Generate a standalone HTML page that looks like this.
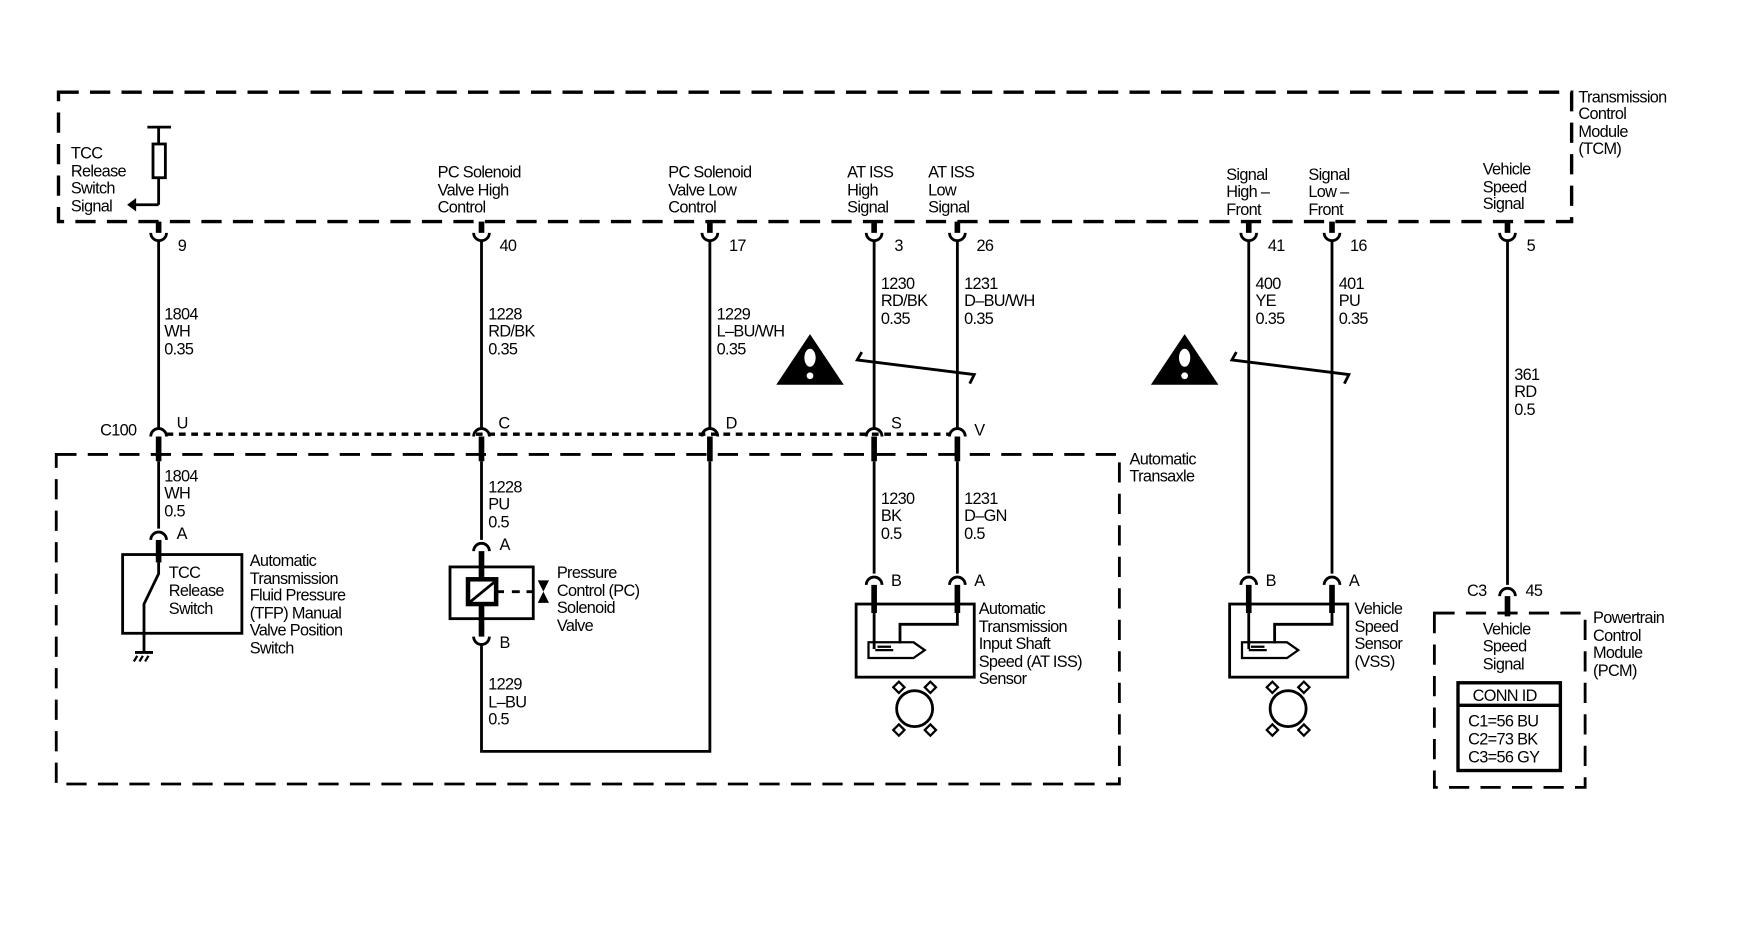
<!DOCTYPE html>
<html><head><meta charset="utf-8"><style>
html,body{margin:0;padding:0;background:#fff;}
svg{display:block}
text{font-family:"Liberation Sans",sans-serif;font-size:14.5px;letter-spacing:-0.6px;fill:#000}
</style></head><body>
<svg width="1764" height="928" viewBox="0 0 1568 825" preserveAspectRatio="none" xmlns="http://www.w3.org/2000/svg">
<g fill="none" stroke="#000">
<rect x="52" y="82" width="1345" height="115" stroke-width="3" stroke-dasharray="18,10"/>
<rect x="50" y="404" width="945" height="293" stroke-width="2.5" stroke-dasharray="18,10"/>
<rect x="1275" y="545" width="134" height="155" stroke-width="2.5" stroke-dasharray="18,10"/>
<line x1="148" y1="386" x2="845" y2="386" stroke-width="3" stroke-dasharray="6,5"/>
</g>
<g fill="none" stroke="#000" stroke-width="2.5">
<path d="M141 197V207 M428 197V207 M631 197V207 M777 197V207 M851 197V207 M1110 197V207 M1184 197V207 M1340 197V207" stroke-width="5"/>
<path d="M134 207a7 7 0 0 0 14 0 M421 207a7 7 0 0 0 14 0 M624 207a7 7 0 0 0 14 0 M770 207a7 7 0 0 0 14 0 M844 207a7 7 0 0 0 14 0 M1103 207a7 7 0 0 0 14 0 M1177 207a7 7 0 0 0 14 0 M1333 207a7 7 0 0 0 14 0"/>
<path d="M141 214V380 M428 214V380 M631 214V380 M777 214V380 M851 214V380 M1110 214V510 M1184 214V510 M1340 214V520"/>
<path d="M134 388a7 7 0 0 1 14 0 M421 388a7 7 0 0 1 14 0 M624 388a7 7 0 0 1 14 0 M770 388a7 7 0 0 1 14 0 M844 388a7 7 0 0 1 14 0"/>
<path d="M141 388V410 M428 388V410 M631 388V410 M777 388V410 M851 388V410" stroke-width="5"/>
<path d="M141 410V470 M428 410V480 M777 410V510 M851 410V510 M631 410V668H428V572"/>
<path d="M131 113H152 M141 113V128 M141 158V182 M141 182H120"/>
<rect x="136" y="128" width="11" height="30"/>
<path d="M134 480a7 7 0 0 1 14 0"/>
<path d="M141 480V500" stroke-width="5"/>
<rect x="109" y="493" width="106" height="70"/>
<path d="M141 500V510 L128 537 V580 M120 580H136"/>
<path d="M421 490a7 7 0 0 1 14 0 M421 566a7 7 0 0 0 14 0"/>
<path d="M428 490V516 M428 538V566" stroke-width="5"/>
<rect x="400" y="504" width="74" height="46"/>
<rect x="416" y="515" width="25" height="22" stroke-width="4"/>
<path d="M418 535L440 517 M441 526H448 M455 526H462 M468 526H474"/>
<path d="M770 520a7 7 0 0 1 14 0 M844 520a7 7 0 0 1 14 0 M1103 520a7 7 0 0 1 14 0 M1177 520a7 7 0 0 1 14 0 M1333 530a7 7 0 0 1 14 0"/>
<path d="M777 520V545 M851 520V545 M1110 520V545 M1184 520V545 M1340 530V548" stroke-width="5"/>
<rect x="761" y="537" width="105" height="65"/>
<rect x="1093" y="537" width="105" height="65"/>
<path d="M777 545V577 M851 545V555H800V572 M1110 545V577 M1184 545V555H1133V572"/>
<path d="M772 571H812L822 578L812 585H772Z M1104 571H1144L1154 578L1144 585H1104Z" stroke-width="2"/>
<circle cx="813" cy="630" r="16"/><circle cx="1145" cy="630" r="16"/>
<path d="M799 616l-5-5 5-5 5 5z M827 616l-5-5 5-5 5 5z M799 644l-5 5 5 5 5-5z M827 644l-5 5 5 5 5-5z" stroke-width="2"/>
<path d="M1131 616l-5-5 5-5 5 5z M1159 616l-5-5 5-5 5 5z M1131 644l-5 5 5 5 5-5z M1159 644l-5 5 5 5 5-5z" stroke-width="2"/>
<path d="M766 313L762 320L866 333L862 341 M1099 313L1095 320L1199 333L1195 341"/>
<rect x="1296" y="607" width="91" height="78" stroke-width="3"/>
<path d="M1296 627H1387" stroke-width="3"/>
</g>
<path d="M113 182L121 176V188Z" fill="#000"/>
<path d="M478 516H488L478 536H488Z" fill="#000"/>
<path d="M122 583l-3 5 M127 583l-3 5 M132 583l-3 5" stroke="#000" stroke-width="2"/>
<path d="M780 575h12M778 578h16" stroke="#000" stroke-width="2"/>
<path d="M1112 575h12M1110 578h16" stroke="#000" stroke-width="2"/>
<g fill="#000"><path d="M720 297L690 342H750Z"/><path d="M1053 297L1023 342H1083Z"/></g>
<g fill="#fff"><ellipse cx="720" cy="318" rx="5" ry="8"/><circle cx="720" cy="334" r="3"/><ellipse cx="1053" cy="318" rx="5" ry="8"/><circle cx="1053" cy="334" r="3"/></g>

<g>
<text x="1403" y="91">Transmission</text><text x="1403" y="106">Control</text><text x="1403" y="122">Module</text><text x="1403" y="137">(TCM)</text>
<text x="63" y="141">TCC</text><text x="63" y="157">Release</text><text x="63" y="172">Switch</text><text x="63" y="188">Signal</text>
<text x="389" y="158">PC Solenoid</text><text x="389" y="174">Valve High</text><text x="389" y="189">Control</text>
<text x="594" y="158">PC Solenoid</text><text x="594" y="174">Valve Low</text><text x="594" y="189">Control</text>
<text x="753" y="158">AT ISS</text><text x="753" y="174">High</text><text x="753" y="189">Signal</text>
<text x="825" y="158">AT ISS</text><text x="825" y="174">Low</text><text x="825" y="189">Signal</text>
<text x="1090" y="160">Signal</text><text x="1090" y="175">High –</text><text x="1090" y="191">Front</text>
<text x="1163" y="160">Signal</text><text x="1163" y="175">Low –</text><text x="1163" y="191">Front</text>
<text x="1318" y="155">Vehicle</text><text x="1318" y="171">Speed</text><text x="1318" y="186">Signal</text>
<text x="158" y="223">9</text><text x="444" y="223">40</text><text x="648" y="223">17</text><text x="795" y="223">3</text><text x="868" y="223">26</text><text x="1127" y="223">41</text><text x="1200" y="223">16</text><text x="1357" y="223">5</text>
<text x="146" y="284">1804</text><text x="146" y="299">WH</text><text x="146" y="315">0.35</text>
<text x="434" y="284">1228</text><text x="434" y="299">RD/BK</text><text x="434" y="315">0.35</text>
<text x="637" y="284">1229</text><text x="637" y="299">L–BU/WH</text><text x="637" y="315">0.35</text>
<text x="783" y="257">1230</text><text x="783" y="272">RD/BK</text><text x="783" y="288">0.35</text>
<text x="857" y="257">1231</text><text x="857" y="272">D–BU/WH</text><text x="857" y="288">0.35</text>
<text x="1116" y="257">400</text><text x="1116" y="272">YE</text><text x="1116" y="288">0.35</text>
<text x="1190" y="257">401</text><text x="1190" y="272">PU</text><text x="1190" y="288">0.35</text>
<text x="1346" y="338">361</text><text x="1346" y="353">RD</text><text x="1346" y="369">0.5</text>
<text x="89" y="387">C100</text><text x="157" y="381">U</text><text x="443" y="381">C</text><text x="645" y="381">D</text><text x="792" y="381">S</text><text x="866" y="387">V</text>
<text x="1004" y="413">Automatic</text><text x="1004" y="428">Transaxle</text>
<text x="146" y="428">1804</text><text x="146" y="443">WH</text><text x="146" y="459">0.5</text>
<text x="157" y="479">A</text>
<text x="150" y="514">TCC</text><text x="150" y="530">Release</text><text x="150" y="546">Switch</text>
<text x="222" y="503">Automatic</text><text x="222" y="519">Transmission</text><text x="222" y="534">Fluid Pressure</text><text x="222" y="550">(TFP) Manual</text><text x="222" y="565">Valve Position</text><text x="222" y="581">Switch</text>
<text x="434" y="438">1228</text><text x="434" y="453">PU</text><text x="434" y="469">0.5</text>
<text x="444" y="489">A</text><text x="444" y="576">B</text>
<text x="495" y="514">Pressure</text><text x="495" y="530">Control (PC)</text><text x="495" y="545">Solenoid</text><text x="495" y="561">Valve</text>
<text x="434" y="613">1229</text><text x="434" y="629">L–BU</text><text x="434" y="644">0.5</text>
<text x="783" y="448">1230</text><text x="783" y="463">BK</text><text x="783" y="479">0.5</text>
<text x="857" y="448">1231</text><text x="857" y="463">D–GN</text><text x="857" y="479">0.5</text>
<text x="792" y="521">B</text><text x="866" y="521">A</text><text x="1125" y="521">B</text><text x="1199" y="521">A</text>
<text x="870" y="546">Automatic</text><text x="870" y="562">Transmission</text><text x="870" y="577">Input Shaft</text><text x="870" y="593">Speed (AT ISS)</text><text x="870" y="608">Sensor</text>
<text x="1204" y="546">Vehicle</text><text x="1204" y="562">Speed</text><text x="1204" y="577">Sensor</text><text x="1204" y="593">(VSS)</text>
<text x="1304" y="530">C3</text><text x="1356" y="530">45</text>
<text x="1318" y="564">Vehicle</text><text x="1318" y="579">Speed</text><text x="1318" y="595">Signal</text>
<text x="1309" y="623">CONN ID</text>
<text x="1305" y="646">C1=56 BU</text><text x="1305" y="662">C2=73 BK</text><text x="1305" y="678">C3=56 GY</text>
<text x="1416" y="554">Powertrain</text><text x="1416" y="570">Control</text><text x="1416" y="585">Module</text><text x="1416" y="601">(PCM)</text>
</g>
</svg>
</body></html>
